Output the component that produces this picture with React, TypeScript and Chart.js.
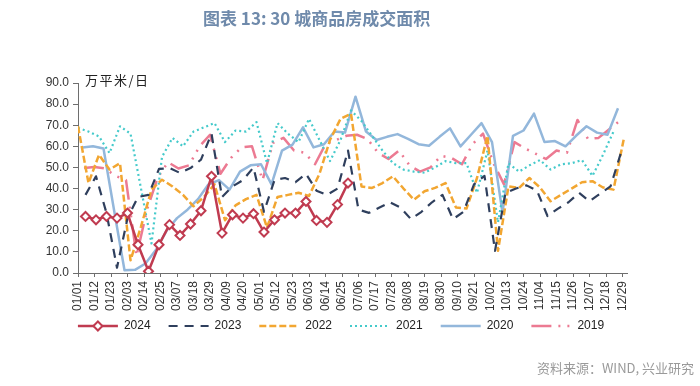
import React, { useEffect, useRef } from 'react';
import { Chart, registerables } from 'chart.js';

Chart.register(...registerables);

// ---- text ----
const TITLE = '图表 13: 30 城商品房成交面积';
const UNIT = '万平米/日';
const SOURCE = '资料来源：WIND, 兴业研究';

// ---- data (weekly values, 万平米/日) ----
const seriesNames = ['2024', '2023', '2022', '2021', '2020', '2019'];
// day-of-year (0 = 01/01) of each series' first weekly observation
const startDays = [5, 5, 0, 0, 3, 4];

const v2024 = [26.8, 25.2, 26.8, 26, 28.4, 13.4, 0.8, 13.4, 22.9, 17.8, 23.2, 29.5, 45.8, 18.9, 27.6, 26, 28.1, 19.4, 25.2, 28.4, 28.4, 33.9, 24.9, 24, 32.4, 42.6];
const v2023 = [37, 45.8, 28.4, 2.5, 26, 36, 37, 49.3, 49.7, 47.4, 49.7, 53.7, 66, 36, 41, 44, 50, 29, 44, 45, 43, 47, 39, 37, 40, 58, 30, 28.5, 31, 33.5, 31, 25.5, 29, 33.5, 37, 25.5, 29, 42, 46, 10.5, 38, 40, 41.5, 39, 27, 30.5, 33.5, 38, 34, 37.5, 41, 57];
const v2022 = [69.5, 42.6, 56, 49, 52, 6, 22, 39.5, 44.2, 41, 37, 31.6, 36, 42, 25, 32, 35, 37, 21.5, 36, 37, 38, 36.5, 47, 63, 73, 75.5, 41, 40.3, 42.6, 45.8, 40, 34.7, 38.7, 40.3, 42.6, 31, 30.5, 45, 65, 10.5, 41, 40.3, 45, 40.5, 34, 37, 40, 43, 43.5, 40.5, 39.5, 64];
const v2021 = [68.7, 67, 64.7, 56.8, 69.5, 66, 40, 14, 55, 64, 60, 67, 69, 71, 62, 67.5, 67, 71.5, 52, 71, 66, 62, 73, 63, 53, 63, 77, 72, 65, 58, 52, 49, 48, 47.5, 50, 53, 52, 52, 38, 58, 24, 52, 48, 51, 53.5, 49, 51.5, 52, 53.5, 46, 56, 67];
const v2020 = [59.5, 60, 59, 30, 1.3, 1.5, 4.5, 11, 20, 26, 30, 35, 42, 44, 39.5, 48, 51, 51.5, 42, 58, 60.8, 69, 59.5, 61, 67, 66.5, 83.5, 67, 63, 64.5, 65.8, 63.5, 61, 60.3, 64.5, 68.5, 60, 65.5, 71, 62, 28.5, 65, 67.5, 75.5, 62, 62.5, 60, 65, 69.5, 66.5, 65.5, 78];
const v2019 = [49.7, 50.2, 49.5, 46, 44, 8, 30, 45, 52.5, 49.5, 51, 60, 65.5, 47, 54.5, 59.5, 60, 44, 61.6, 64, 58, 57, 51.5, 61, 63, 65, 65.5, 63.5, 57, 54, 58, 51, 48, 50, 55.5, 54.5, 51.5, 61, 66, 52, 42, 62, 59, 56.5, 54, 58, 57, 72.5, 63.5, 64, 68, 72];

const seriesValues = [v2024, v2023, v2022, v2021, v2020, v2019];

// axis settings
const Y_MIN = 0;
const Y_MAX = 90;
const Y_STEP = 10;
const X_MAX_DAY = 366; // leap-year calendar axis
const X_LABEL_STEP = 11; // a date label every 11 days
const LABEL_YEAR = 2024;

// ---- styles ----
const colors = ['#C03B50', '#2F3F5D', '#F2A631', '#45CACB', '#93B7DB', '#EC7A92'];
const widths = [2.5, 2.2, 2.5, 2.2, 2.5, 2.5];
const dashes: number[][] = [[], [9, 7], [7, 3], [2, 3], [], [20, 7, 2, 7, 2, 7]];
const LEGEND_SHIFT = 11;

function dayLabel(v: number): string {
  const d = new Date(LABEL_YEAR, 0, 1 + Math.round(v));
  const mm = String(d.getMonth() + 1).padStart(2, '0');
  const dd = String(d.getDate()).padStart(2, '0');
  return `${mm}/${dd}`;
}

function toPoints(values: number[], start: number) {
  return values.map((y, i) => ({ x: start + 7 * i, y }));
}

const legendShiftPlugin = {
  id: 'legendShift',
  afterLayout(chart: any) {
    const lg = chart.legend;
    if (lg) {
      lg.top -= LEGEND_SHIFT;
      lg.bottom -= LEGEND_SHIFT;
    }
  },
};

const textPlugin = {
  id: 'textLayer',
  afterDraw(chart: any) {
    const ctx = chart.ctx as CanvasRenderingContext2D;
    ctx.save();
    // title
    ctx.font = 'bold 17px "Noto Sans CJK SC"';
    ctx.fillStyle = '#6F8AAB';
    ctx.textAlign = 'left';
    ctx.textBaseline = 'middle';
    ctx.fillText(TITLE, 203, 19);
    // unit
    ctx.font = '13px "Noto Sans CJK SC"';
    (ctx as any).letterSpacing = '1.5px';
    ctx.fillStyle = '#222222';
    ctx.fillText(UNIT, 85, 80);
    (ctx as any).letterSpacing = '0px';
    // source
    ctx.font = '13px "Noto Sans CJK SC"';
    ctx.fillStyle = '#9A9A9A';
    ctx.textAlign = 'right';
    ctx.fillText(SOURCE, 694, 368);

    // diamond marker on the 2024 legend sample
    const legend = chart.legend;
    if (legend && legend.legendHitBoxes && legend.legendHitBoxes[0]) {
      const hb = legend.legendHitBoxes[0];
      const cx = hb.left + 20;
      const cy = hb.top + hb.height / 2;
      const r = 4.5;
      ctx.beginPath();
      ctx.moveTo(cx, cy - r);
      ctx.lineTo(cx + r, cy);
      ctx.lineTo(cx, cy + r);
      ctx.lineTo(cx - r, cy);
      ctx.closePath();
      ctx.fillStyle = '#FFFFFF';
      ctx.fill();
      ctx.lineWidth = 2;
      ctx.strokeStyle = colors[0];
      ctx.setLineDash([]);
      ctx.stroke();
    }
    ctx.restore();
  },
};

export default function App() {
  const ref = useRef<HTMLCanvasElement | null>(null);

  useEffect(() => {
    if (!ref.current) return;
    const datasets = seriesNames.map((name, i) => ({
      label: name,
      data: toPoints(seriesValues[i], startDays[i]),
      borderColor: colors[i],
      backgroundColor: colors[i],
      borderWidth: widths[i],
      borderDash: dashes[i],
      borderCapStyle: 'butt' as const,
      borderJoinStyle: 'round' as const,
      tension: 0,
      fill: false,
      pointRadius: i === 0 ? 4.5 : 0,
      pointHoverRadius: i === 0 ? 4.5 : 0,
      pointStyle: 'rectRot' as const,
      pointBackgroundColor: '#FFFFFF',
      pointBorderColor: colors[i],
      pointBorderWidth: 2,
    }));

    const chart = new Chart(ref.current, {
      type: 'line',
      data: { datasets },
      plugins: [legendShiftPlugin, textPlugin],
      options: {
        animation: false,
        responsive: true,
        maintainAspectRatio: false,
        devicePixelRatio: 1,
        layout: { padding: { left: 0, right: 18, top: 83, bottom: 33 } },
        plugins: {
          title: { display: false },
          tooltip: { enabled: false },
          legend: {
            display: true,
            position: 'bottom',
            align: 'center',
            labels: {
              usePointStyle: true,
              pointStyleWidth: 40,
              boxWidth: 40,
              boxHeight: 12,
              padding: 18,
              color: '#222222',
              font: { family: '"Liberation Sans", Arial, sans-serif', size: 12 },
              generateLabels: (c: any) =>
                c.data.datasets.map((ds: any, i: number) => ({
                  text: ds.label,
                  fillStyle: ds.borderColor,
                  strokeStyle: ds.borderColor,
                  lineWidth: ds.borderWidth,
                  lineDash: ds.borderDash,
                  lineCap: 'butt',
                  pointStyle: 'line',
                  hidden: false,
                  fontColor: '#222222',
                  datasetIndex: i,
                })),
            },
          },
        },
        scales: {
          x: {
            type: 'linear',
            min: 0,
            max: X_MAX_DAY,
            afterFit: (s: any) => {
              s.height = 40;
            },
            grid: {
              display: true,
              drawOnChartArea: false,
              drawTicks: true,
              tickLength: 4,
              color: '#6E6E6E',
            },
            border: { display: true, color: '#6E6E6E', width: 1 },
            ticks: {
              stepSize: X_LABEL_STEP,
              includeBounds: false,
              autoSkip: false,
              maxRotation: 90,
              minRotation: 90,
              padding: 4,
              color: '#333333',
              font: { family: '"Liberation Sans", Arial, sans-serif', size: 12 },
              callback: (v: any) => dayLabel(Number(v)),
            },
          },
          y: {
            type: 'linear',
            position: 'left',
            min: Y_MIN,
            max: Y_MAX,
            afterFit: (s: any) => {
              s.width = 78;
            },
            grid: {
              display: true,
              drawOnChartArea: false,
              drawTicks: true,
              tickLength: 5,
              color: '#6E6E6E',
            },
            border: { display: true, color: '#6E6E6E', width: 1 },
            ticks: {
              stepSize: Y_STEP,
              padding: 4,
              color: '#333333',
              font: { family: '"Liberation Sans", Arial, sans-serif', size: 12 },
              callback: (v: any) => Number(v).toFixed(1),
            },
          },
          yRight: {
            type: 'linear',
            axis: 'y',
            position: 'right',
            display: true,
            afterFit: (s: any) => {
              s.width = 55;
            },
            grid: { display: false },
            border: { display: false },
            ticks: { display: false },
          },
        },
      } as any,
    });
    return () => chart.destroy();
  }, []);

  return (
    <div style={{ position: 'absolute', left: 0, top: 0, width: 700, height: 386, background: '#FFFFFF' }}>
      <canvas ref={ref} />
    </div>
  );
}
